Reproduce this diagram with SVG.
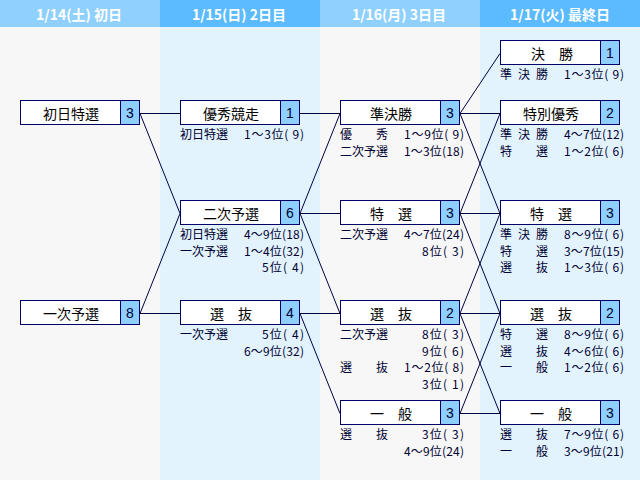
<svg xmlns="http://www.w3.org/2000/svg" width="640" height="480" viewBox="0 0 640 480">
<style>
.bgA{fill:#f7f7f7}
.bgB{fill:#e3f3fe}
.hdA{fill:#8fd0fe}
.hdB{fill:#5cbbfe}
.ht{font-family:"Noto Sans CJK JP","Liberation Sans",sans-serif;font-size:14px;font-weight:bold;fill:#ffffff;text-anchor:middle}
.box{fill:#ffffff;stroke:#000066;stroke-width:1}
.num{fill:#8fcffe;stroke:#000066;stroke-width:1}
.lbl{font-family:"Noto Sans CJK JP",sans-serif;font-size:14px;fill:#000000;text-anchor:middle}
.nt{font-family:"Liberation Sans","Noto Sans CJK JP",sans-serif;font-size:14px;fill:#000033;text-anchor:middle}
.st{font-family:"Noto Sans CJK JP",sans-serif;font-size:12px;fill:#000033}
.cn line{stroke:#000044;stroke-width:1;fill:none}
</style>
<g id="background">
<rect class="bgA" x="0" y="0" width="160" height="480"/>
<rect class="bgB" x="160" y="0" width="160" height="480"/>
<rect class="bgA" x="320" y="0" width="160" height="480"/>
<rect class="bgB" x="480" y="0" width="160" height="480"/>
<rect class="hdA" x="0" y="0" width="160" height="27"/>
<rect class="hdB" x="160" y="0" width="160" height="27"/>
<rect class="hdA" x="320" y="0" width="160" height="27"/>
<rect class="hdB" x="480" y="0" width="160" height="27"/>
<text class="ht" x="79" y="20">1/14(土) 初日</text>
<text class="ht" x="239" y="20">1/15(日) 2日目</text>
<text class="ht" x="399" y="20">1/16(月) 3日目</text>
<text class="ht" x="560" y="20">1/17(火) 最終日</text>
</g>
<g id="connectors" class="cn">
<line x1="140" y1="113.5" x2="180" y2="113.5"/>
<line x1="140" y1="113.5" x2="180" y2="213.5"/>
<line x1="140" y1="313.5" x2="180" y2="213.5"/>
<line x1="140" y1="313.5" x2="180" y2="313.5"/>
<line x1="300" y1="113.5" x2="340" y2="113.5"/>
<line x1="300" y1="213.5" x2="340" y2="113.5"/>
<line x1="300" y1="213.5" x2="340" y2="213.5"/>
<line x1="300" y1="213.5" x2="340" y2="313.5"/>
<line x1="300" y1="313.5" x2="340" y2="313.5"/>
<line x1="300" y1="313.5" x2="340" y2="413.5"/>
<line x1="460" y1="113.5" x2="500" y2="53.5"/>
<line x1="460" y1="113.5" x2="500" y2="113.5"/>
<line x1="460" y1="113.5" x2="500" y2="213.5"/>
<line x1="460" y1="213.5" x2="500" y2="113.5"/>
<line x1="460" y1="213.5" x2="500" y2="213.5"/>
<line x1="460" y1="213.5" x2="500" y2="313.5"/>
<line x1="460" y1="313.5" x2="500" y2="213.5"/>
<line x1="460" y1="313.5" x2="500" y2="313.5"/>
<line x1="460" y1="313.5" x2="500" y2="413.5"/>
<line x1="460" y1="413.5" x2="500" y2="313.5"/>
<line x1="460" y1="413.5" x2="500" y2="413.5"/>
</g>
<g id="n1a">
<rect class="box" x="20.5" y="100.5" width="119" height="24"/>
<rect class="num" x="120.5" y="100.5" width="19" height="24"/>
<text class="lbl" x="71" y="118.5">初日特選</text>
<text class="nt" x="130" y="118">3</text>
</g>
<g id="n1b">
<rect class="box" x="20.5" y="300.5" width="119" height="24"/>
<rect class="num" x="120.5" y="300.5" width="19" height="24"/>
<text class="lbl" x="71" y="318.5">一次予選</text>
<text class="nt" x="130" y="318">8</text>
</g>
<g id="n2a">
<rect class="box" x="180.5" y="100.5" width="119" height="24"/>
<rect class="num" x="280.5" y="100.5" width="19" height="24"/>
<text class="lbl" x="231" y="118.5">優秀競走</text>
<text class="nt" x="290" y="118">1</text>
<text class="st" x="180" y="139">初日特選</text>
<text class="st" x="244" y="139" textLength="60">1〜3位( 9)</text>
</g>
<g id="n2b">
<rect class="box" x="180.5" y="200.5" width="119" height="24"/>
<rect class="num" x="280.5" y="200.5" width="19" height="24"/>
<text class="lbl" x="231" y="218.5">二次予選</text>
<text class="nt" x="290" y="218">6</text>
<text class="st" x="180" y="239">初日特選</text>
<text class="st" x="244" y="239" textLength="60">4〜9位(18)</text>
<text class="st" x="180" y="255.7">一次予選</text>
<text class="st" x="244" y="255.7" textLength="60">1〜4位(32)</text>
<text class="st" x="262" y="272.4" textLength="42">5位( 4)</text>
</g>
<g id="n2c">
<rect class="box" x="180.5" y="300.5" width="119" height="24"/>
<rect class="num" x="280.5" y="300.5" width="19" height="24"/>
<text class="lbl" x="231" y="318.5">選　抜</text>
<text class="nt" x="290" y="318">4</text>
<text class="st" x="180" y="339">一次予選</text>
<text class="st" x="262" y="339" textLength="42">5位( 4)</text>
<text class="st" x="244" y="355.7" textLength="60">6〜9位(32)</text>
</g>
<g id="n3a">
<rect class="box" x="340.5" y="100.5" width="119" height="24"/>
<rect class="num" x="440.5" y="100.5" width="19" height="24"/>
<text class="lbl" x="391" y="118.5">準決勝</text>
<text class="nt" x="450" y="118">3</text>
<text class="st" x="340 376" y="139">優秀</text>
<text class="st" x="404" y="139" textLength="60">1〜9位( 9)</text>
<text class="st" x="340" y="155.7">二次予選</text>
<text class="st" x="404" y="155.7" textLength="60">1〜3位(18)</text>
</g>
<g id="n3b">
<rect class="box" x="340.5" y="200.5" width="119" height="24"/>
<rect class="num" x="440.5" y="200.5" width="19" height="24"/>
<text class="lbl" x="391" y="218.5">特　選</text>
<text class="nt" x="450" y="218">3</text>
<text class="st" x="340" y="239">二次予選</text>
<text class="st" x="404" y="239" textLength="60">4〜7位(24)</text>
<text class="st" x="422" y="255.7" textLength="42">8位( 3)</text>
</g>
<g id="n3c">
<rect class="box" x="340.5" y="300.5" width="119" height="24"/>
<rect class="num" x="440.5" y="300.5" width="19" height="24"/>
<text class="lbl" x="391" y="318.5">選　抜</text>
<text class="nt" x="450" y="318">2</text>
<text class="st" x="340" y="339">二次予選</text>
<text class="st" x="422" y="339" textLength="42">8位( 3)</text>
<text class="st" x="422" y="355.7" textLength="42">9位( 6)</text>
<text class="st" x="340 376" y="372.4">選抜</text>
<text class="st" x="404" y="372.4" textLength="60">1〜2位( 8)</text>
<text class="st" x="422" y="389.1" textLength="42">3位( 1)</text>
</g>
<g id="n3d">
<rect class="box" x="340.5" y="400.5" width="119" height="24"/>
<rect class="num" x="440.5" y="400.5" width="19" height="24"/>
<text class="lbl" x="391" y="418.5">一　般</text>
<text class="nt" x="450" y="418">3</text>
<text class="st" x="340 376" y="439">選抜</text>
<text class="st" x="422" y="439" textLength="42">3位( 3)</text>
<text class="st" x="404" y="455.7" textLength="60">4〜9位(24)</text>
</g>
<g id="n4a">
<rect class="box" x="500.5" y="40.5" width="119" height="24"/>
<rect class="num" x="600.5" y="40.5" width="19" height="24"/>
<text class="lbl" x="552" y="58.5">決　勝</text>
<text class="nt" x="610" y="58">1</text>
<text class="st" x="500 518 536" y="79">準決勝</text>
<text class="st" x="564" y="79" textLength="60">1〜3位( 9)</text>
</g>
<g id="n4b">
<rect class="box" x="500.5" y="100.5" width="119" height="24"/>
<rect class="num" x="600.5" y="100.5" width="19" height="24"/>
<text class="lbl" x="551" y="118.5">特別優秀</text>
<text class="nt" x="610" y="118">2</text>
<text class="st" x="500 518 536" y="139">準決勝</text>
<text class="st" x="564" y="139" textLength="60">4〜7位(12)</text>
<text class="st" x="500 536" y="155.7">特選</text>
<text class="st" x="564" y="155.7" textLength="60">1〜2位( 6)</text>
</g>
<g id="n4c">
<rect class="box" x="500.5" y="200.5" width="119" height="24"/>
<rect class="num" x="600.5" y="200.5" width="19" height="24"/>
<text class="lbl" x="551" y="218.5">特　選</text>
<text class="nt" x="610" y="218">3</text>
<text class="st" x="500 518 536" y="239">準決勝</text>
<text class="st" x="564" y="239" textLength="60">8〜9位( 6)</text>
<text class="st" x="500 536" y="255.7">特選</text>
<text class="st" x="564" y="255.7" textLength="60">3〜7位(15)</text>
<text class="st" x="500 536" y="272.4">選抜</text>
<text class="st" x="564" y="272.4" textLength="60">1〜3位( 6)</text>
</g>
<g id="n4d">
<rect class="box" x="500.5" y="300.5" width="119" height="24"/>
<rect class="num" x="600.5" y="300.5" width="19" height="24"/>
<text class="lbl" x="551" y="318.5">選　抜</text>
<text class="nt" x="610" y="318">2</text>
<text class="st" x="500 536" y="339">特選</text>
<text class="st" x="564" y="339" textLength="60">8〜9位( 6)</text>
<text class="st" x="500 536" y="355.7">選抜</text>
<text class="st" x="564" y="355.7" textLength="60">4〜6位( 6)</text>
<text class="st" x="500 536" y="372.4">一般</text>
<text class="st" x="564" y="372.4" textLength="60">1〜2位( 6)</text>
</g>
<g id="n4e">
<rect class="box" x="500.5" y="400.5" width="119" height="24"/>
<rect class="num" x="600.5" y="400.5" width="19" height="24"/>
<text class="lbl" x="551" y="418.5">一　般</text>
<text class="nt" x="610" y="418">3</text>
<text class="st" x="500 536" y="439">選抜</text>
<text class="st" x="564" y="439" textLength="60">7〜9位( 6)</text>
<text class="st" x="500 536" y="455.7">一般</text>
<text class="st" x="564" y="455.7" textLength="60">3〜9位(21)</text>
</g>
</svg>
